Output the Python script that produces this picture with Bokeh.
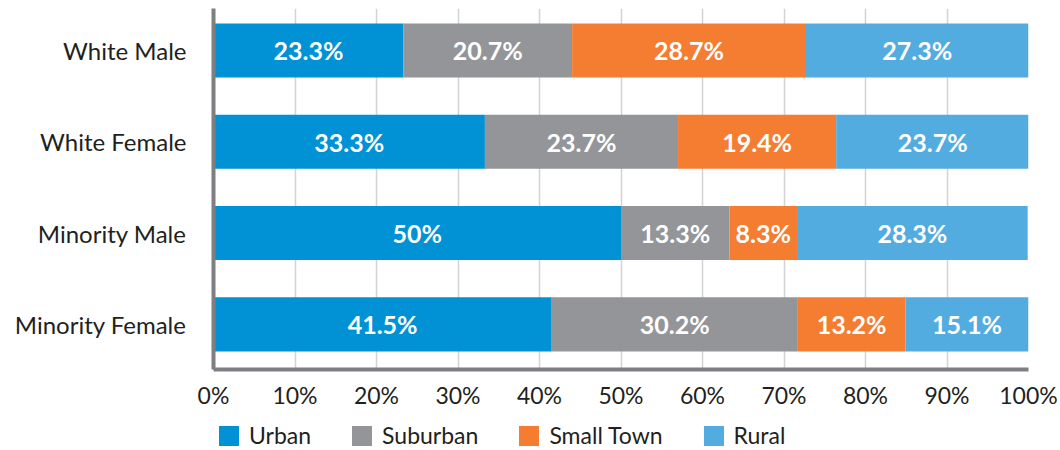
from bokeh.plotting import figure
from bokeh.layouts import column
from bokeh.models import ColumnDataSource, Range1d, FixedTicker, Legend, LegendItem
from bokeh.core.properties import value
from bokeh.embed import file_html
from bokeh.resources import INLINE

categories = ["White Male", "White Female", "Minority Male", "Minority Female"]
series = ["Urban", "Suburban", "Small Town", "Rural"]
urban = [23.3, 33.3, 50.0, 41.5]
suburban = [20.7, 23.7, 13.3, 30.2]
small_town = [28.7, 19.4, 8.3, 13.2]
rural = [27.3, 23.7, 28.3, 15.1]
colors = ["#0092D4", "#939598", "#F47D32", "#53ACE0"]
x_ticks = [0, 10, 20, 30, 40, 50, 60, 70, 80, 90, 100]

FONT = "Lato"
n = len(categories)
ypos = [n - 1 - i for i in range(n)]

data = {"y": ypos, "Urban": urban, "Suburban": suburban, "Small Town": small_town, "Rural": rural}
src = ColumnDataSource(data)

p = figure(width=1060, height=411, output_backend="svg", toolbar_location=None,
           x_range=Range1d(0, 100), y_range=Range1d(-0.495, 3.46),
           min_border_left=213, min_border_right=32, min_border_top=8, min_border_bottom=36)
p.outline_line_color = None
p.background_fill_color = "white"

renderers = p.hbar_stack(series, y="y", height=0.593, color=colors, source=src, line_color=None)

# labels
all_vals = [urban, suburban, small_town, rural]
lx, ly, lt = [], [], []
for i in range(n):
    left = 0.0
    for s in range(len(series)):
        v = all_vals[s][i]
        lx.append(left + v / 2)
        ly.append(ypos[i])
        lt.append(("%g" % v) + "%")
        left += v
p.text(x=lx, y=ly, text=lt, text_color="white", text_font=value(FONT), text_font_style="bold",
       text_font_size="25px", text_align="center", text_baseline="middle")

# grid
p.ygrid.grid_line_color = None
p.xgrid.grid_line_color = "#D1D3D4"
p.xgrid.grid_line_width = 1.5
p.xgrid.ticker = FixedTicker(ticks=x_ticks)

# x axis
xa = p.xaxis[0]
xa.ticker = FixedTicker(ticks=x_ticks)
xa.major_label_overrides = {t: f"{t}%" for t in x_ticks}
xa.axis_line_color = "#7E7F83"
xa.axis_line_width = 4
xa.major_tick_line_color = None
xa.minor_tick_line_color = None
xa.major_label_text_font = FONT
xa.major_label_text_font_size = "23px"
xa.major_label_text_color = "#231F20"
xa.major_label_standoff = 5

# y axis
ya = p.yaxis[0]
ya.ticker = FixedTicker(ticks=ypos)
ya.major_label_overrides = {ypos[i]: categories[i] for i in range(n)}
ya.axis_line_color = "#7E7F83"
ya.axis_line_width = 4
ya.major_tick_line_color = None
ya.minor_tick_line_color = None
ya.major_label_text_font = FONT
ya.major_label_text_font_size = "24px"
ya.major_label_text_color = "#231F20"
ya.major_label_standoff = 21

# legend figure (frame aligned with main frame by column layout)
lf = figure(width=1060, height=38, output_backend="svg", toolbar_location=None,
            x_range=Range1d(0, 1), y_range=Range1d(0, 1),
            min_border_left=0, min_border_right=0, min_border_top=0, min_border_bottom=0)
lf.axis.visible = False
lf.grid.visible = False
lf.outline_line_color = None
nan = float("nan")
dummies = [lf.rect(x=[nan], y=[nan], width=1, height=1, fill_color=colors[k], line_color=None)
           for k in range(len(series))]
legend = Legend(items=[LegendItem(label=series[k], renderers=[dummies[k]]) for k in range(len(series))],
                orientation="horizontal", location=(3, 0),
                glyph_width=25, glyph_height=25, label_standoff=8, spacing=38,
                label_text_font=FONT, label_text_font_size="23px", label_text_color="#231F20",
                border_line_color=None, background_fill_alpha=0, padding=0, margin=0)
lf.add_layout(legend, "center")

layout = column(p, lf, spacing=0)
open("out.html", "w").write(file_html(layout, INLINE))
